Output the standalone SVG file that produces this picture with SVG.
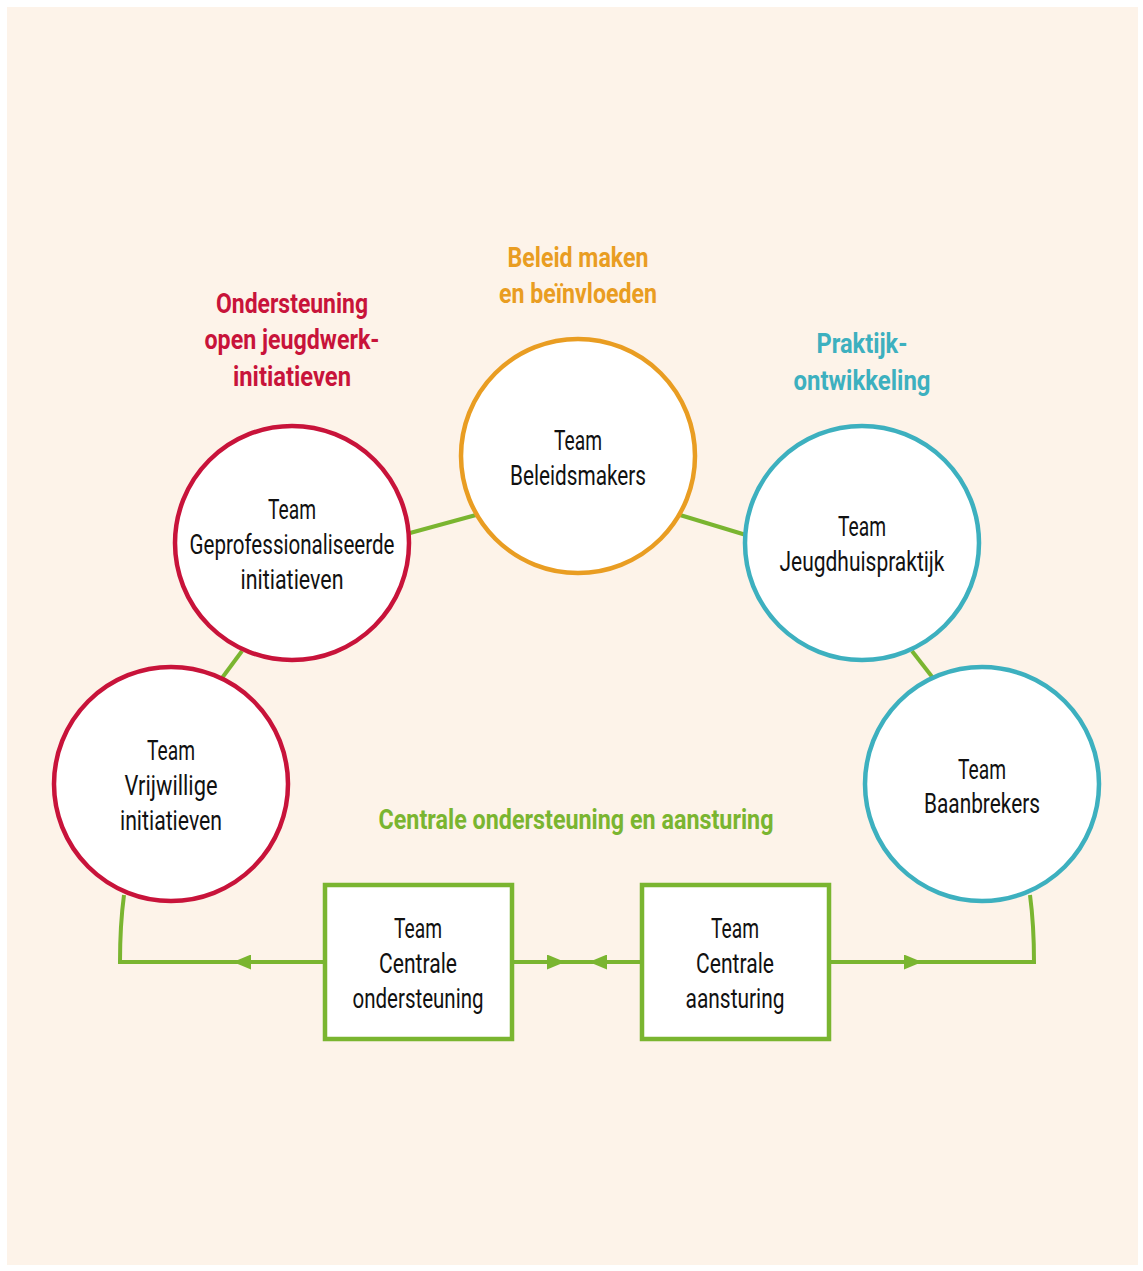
<svg xmlns="http://www.w3.org/2000/svg" width="1143" height="1271" viewBox="0 0 1143 1271">
<defs>
<style>
.bg{fill:#fdf3e9}
.c{fill:#ffffff;stroke-width:4.5}
.red{stroke:#c8133a}
.org{stroke:#e99d22}
.teal{stroke:#3db0bf}
.box{fill:#ffffff;stroke:#7ab530;stroke-width:4.5}
.ln{fill:none;stroke:#7ab530;stroke-width:4}
.t{font-family:Roboto,"Liberation Sans",sans-serif;font-size:28px;fill:#111111;text-anchor:middle}
.h{font-family:Roboto,"Liberation Sans",sans-serif;font-size:28px;font-weight:bold;text-anchor:middle}
.hr{fill:#c8133a}
.ho{fill:#e99d22}
.ht{fill:#3db0bf}
.hg{fill:#7ab530}
</style>
<marker id="ar" viewBox="0 0 18 15" refX="18" refY="7.5" markerWidth="18" markerHeight="15" markerUnits="userSpaceOnUse" orient="auto">
<path d="M0,0 L18,7.5 L0,15 Z" fill="#7ab530"/>
</marker>
</defs>
<rect x="0" y="0" width="1143" height="1271" fill="#ffffff"/>
<rect class="bg" x="7" y="7" width="1131" height="1258"/>

<g id="connectors">
<line class="ln" x1="410" y1="533" x2="476" y2="515"/>
<line class="ln" x1="680" y1="515" x2="746" y2="535"/>
<line class="ln" x1="242" y1="651" x2="222" y2="678"/>
<line class="ln" x1="912" y1="651" x2="933" y2="678"/>
<path class="ln" d="M124,895 Q120,925 120,962 L325,962"/>
<line class="ln" x1="325" y1="962" x2="233" y2="962" marker-end="url(#ar)"/>
<line class="ln" x1="512" y1="962" x2="642" y2="962"/>
<line class="ln" x1="512" y1="962" x2="565" y2="962" marker-end="url(#ar)"/>
<line class="ln" x1="642" y1="962" x2="589" y2="962" marker-end="url(#ar)"/>
<path class="ln" d="M829,962 L1034,962 Q1034,925 1030,895"/>
<line class="ln" x1="829" y1="962" x2="922" y2="962" marker-end="url(#ar)"/>
</g>

<g id="label-ondersteuning">
<text class="h hr" x="292" y="313" textLength="152" lengthAdjust="spacingAndGlyphs">Ondersteuning</text>
<text class="h hr" x="292" y="349" textLength="175" lengthAdjust="spacingAndGlyphs">open jeugdwerk-</text>
<text class="h hr" x="292" y="386" textLength="118" lengthAdjust="spacingAndGlyphs">initiatieven</text>
</g>
<g id="label-beleid">
<text class="h ho" x="578" y="267" textLength="141" lengthAdjust="spacingAndGlyphs">Beleid maken</text>
<text class="h ho" x="578" y="303" textLength="158" lengthAdjust="spacingAndGlyphs">en beïnvloeden</text>
</g>
<g id="label-praktijk">
<text class="h ht" x="862" y="353" textLength="91" lengthAdjust="spacingAndGlyphs">Praktijk-</text>
<text class="h ht" x="862" y="390" textLength="137" lengthAdjust="spacingAndGlyphs">ontwikkeling</text>
</g>
<g id="label-centrale">
<text class="h hg" x="576" y="829" textLength="395" lengthAdjust="spacingAndGlyphs">Centrale ondersteuning en aansturing</text>
</g>

<g id="node-beleidsmakers">
<circle class="c org" cx="578" cy="456" r="117"/>
<text class="t" x="578" y="450" textLength="48" lengthAdjust="spacingAndGlyphs">Team</text>
<text class="t" x="578" y="485" textLength="136" lengthAdjust="spacingAndGlyphs">Beleidsmakers</text>
</g>
<g id="node-geprofessionaliseerde">
<circle class="c red" cx="292" cy="543" r="117"/>
<text class="t" x="292" y="519" textLength="48" lengthAdjust="spacingAndGlyphs">Team</text>
<text class="t" x="292" y="554" textLength="205" lengthAdjust="spacingAndGlyphs">Geprofessionaliseerde</text>
<text class="t" x="292" y="589" textLength="103" lengthAdjust="spacingAndGlyphs">initiatieven</text>
</g>
<g id="node-vrijwillige">
<circle class="c red" cx="171" cy="784" r="117"/>
<text class="t" x="171" y="760" textLength="48" lengthAdjust="spacingAndGlyphs">Team</text>
<text class="t" x="171" y="795" textLength="93" lengthAdjust="spacingAndGlyphs">Vrijwillige</text>
<text class="t" x="171" y="830" textLength="102" lengthAdjust="spacingAndGlyphs">initiatieven</text>
</g>
<g id="node-jeugdhuispraktijk">
<circle class="c teal" cx="862" cy="543" r="117"/>
<text class="t" x="862" y="536" textLength="48" lengthAdjust="spacingAndGlyphs">Team</text>
<text class="t" x="862" y="571" textLength="165" lengthAdjust="spacingAndGlyphs">Jeugdhuispraktijk</text>
</g>
<g id="node-baanbrekers">
<circle class="c teal" cx="982" cy="784" r="117"/>
<text class="t" x="982" y="779" textLength="48" lengthAdjust="spacingAndGlyphs">Team</text>
<text class="t" x="982" y="813" textLength="116" lengthAdjust="spacingAndGlyphs">Baanbrekers</text>
</g>
<g id="node-centrale-ondersteuning">
<rect class="box" x="325" y="885" width="187" height="154"/>
<text class="t" x="418" y="938" textLength="48" lengthAdjust="spacingAndGlyphs">Team</text>
<text class="t" x="418" y="973" textLength="78" lengthAdjust="spacingAndGlyphs">Centrale</text>
<text class="t" x="418" y="1008" textLength="131" lengthAdjust="spacingAndGlyphs">ondersteuning</text>
</g>
<g id="node-centrale-aansturing">
<rect class="box" x="642" y="885" width="187" height="154"/>
<text class="t" x="735" y="938" textLength="48" lengthAdjust="spacingAndGlyphs">Team</text>
<text class="t" x="735" y="973" textLength="78" lengthAdjust="spacingAndGlyphs">Centrale</text>
<text class="t" x="735" y="1008" textLength="99" lengthAdjust="spacingAndGlyphs">aansturing</text>
</g>
</svg>
